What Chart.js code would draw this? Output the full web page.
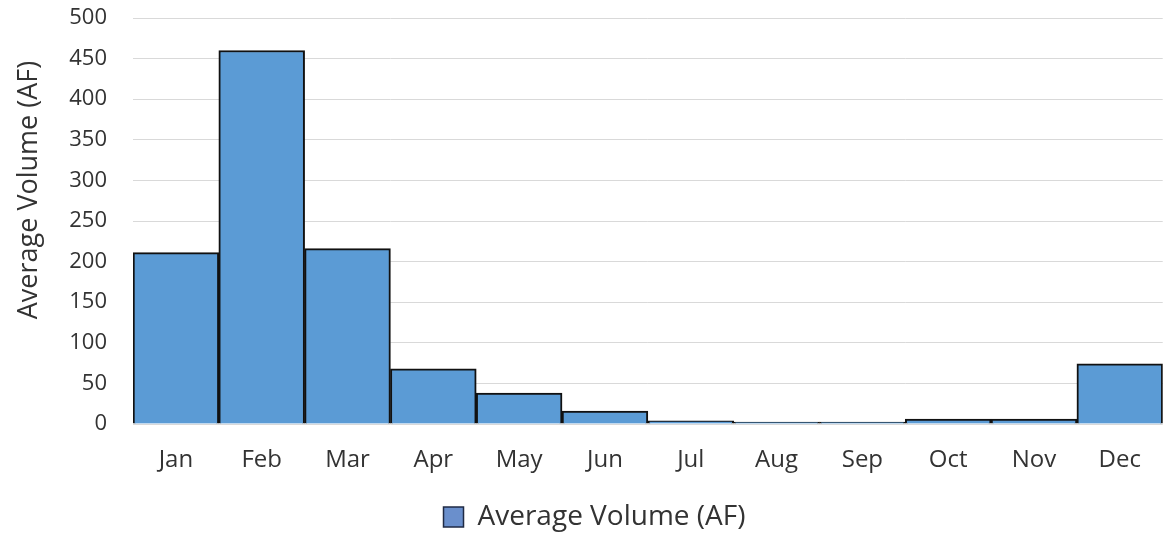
<!DOCTYPE html>
<html>
<head>
<meta charset="utf-8">
<script src="https://cdn.jsdelivr.net/npm/chart.js@4"></script>
<style>
    html, body { margin: 0; padding: 0; background: #ffffff; }
    #wrap { width: 1163px; height: 537px; }
</style>
</head>
<body>
<div id="wrap"><canvas id="volumeChart"></canvas></div>
<script>
// data
const months = ['Jan', 'Feb', 'Mar', 'Apr', 'May', 'Jun', 'Jul', 'Aug', 'Sep', 'Oct', 'Nov', 'Dec'];
const avgVolume = [211, 460, 216, 68, 38, 16, 4, 2.5, 2.5, 6, 6, 74];
const seriesName = 'Average Volume (AF)';
const axisTitle = 'Average Volume (AF)';

const FONT = "'Open Sans', sans-serif";
const TEXT = '#333333';

// y axis title drawn by hand so it sits where Excel put it
const yTitlePlugin = {
    id: 'yTitle',
    afterDraw(chart) {
        const ctx = chart.ctx;
        ctx.save();
        ctx.translate(29, 190);
        ctx.rotate(-Math.PI / 2);
        ctx.font = '27px ' + FONT;
        ctx.fillStyle = TEXT;
        ctx.textAlign = 'center';
        ctx.textBaseline = 'middle';
        ctx.fillText(axisTitle, 0, 0);
        ctx.restore();
    }
};

new Chart(document.getElementById('volumeChart'), {
    type: 'bar',
    data: {
        labels: months,
        datasets: [{
            label: seriesName,
            data: avgVolume,
            backgroundColor: '#5B9BD5',
            borderColor: '#111111',
            borderWidth: 2,
            barPercentage: 1.0,
            categoryPercentage: 1.0
        }]
    },
    options: {
        responsive: true,
        maintainAspectRatio: false,
        animation: false,
        layout: {
            padding: { top: 18, left: 24, right: -2, bottom: -4 }
        },
        scales: {
            x: {
                grid: { display: false, drawTicks: false },
                border: { display: false },
                ticks: {
                    color: TEXT,
                    font: { family: FONT, size: 24 },
                    padding: 22,
                    maxRotation: 0
                },
                afterFit(scale) { scale.height = 75; }
            },
            y: {
                min: 0,
                max: 500,
                grid: { color: '#d9d9d9', lineWidth: 1, drawTicks: false },
                border: { display: false },
                ticks: {
                    stepSize: 50,
                    color: TEXT,
                    font: { family: FONT, size: 22 },
                    padding: 26
                },
                afterFit(scale) {
                    scale.width = 109;
                    // tick padding would otherwise push the plot top down
                    scale.paddingTop = 0;
                    scale.paddingBottom = 0;
                }
            }
        },
        plugins: {
            legend: {
                position: 'bottom',
                labels: {
                    color: TEXT,
                    font: { family: FONT, size: 28 },
                    boxWidth: 20,
                    boxHeight: 20,
                    padding: 4,
                    generateLabels(chart) {
                        return [{
                            text: seriesName,
                            fillStyle: '#6a8fcc',
                            strokeStyle: '#1f2a44',
                            lineWidth: 1.5,
                            fontColor: TEXT,
                            datasetIndex: 0,
                            hidden: false
                        }];
                    }
                }
            },
            tooltip: { enabled: false }
        }
    },
    plugins: [yTitlePlugin]
});
</script>
</body>
</html>
